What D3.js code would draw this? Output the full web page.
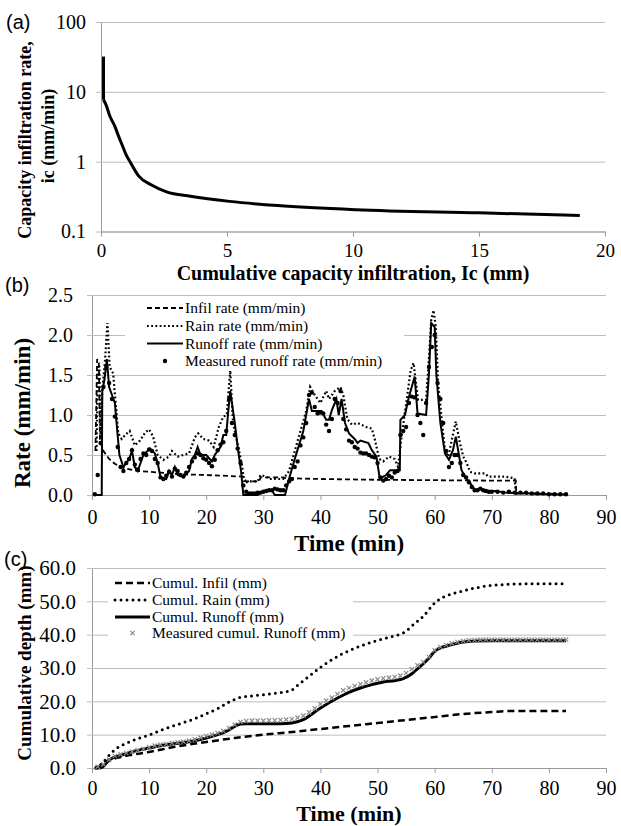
<!DOCTYPE html>
<html>
<head>
<meta charset="utf-8">
<script src="https://cdn.jsdelivr.net/npm/d3@7"></script>
<style>
  body { margin: 0; background: #fff; }
  svg { display: block; }
</style>
</head>
<body>
<div id="main"></div>
<script>
// (a) capacity infiltration rate vs cumulative capacity infiltration
const capCumul = [0.1, 0.1, 0.2, 0.35, 0.55, 0.7, 0.86, 1.0, 1.18, 1.5, 1.97, 2.6, 3.55, 5.1, 7, 10.1, 15, 19];
const capRate = [32, 7.7, 6.5, 4.5, 3.2, 2.3, 1.66, 1.25, 0.96, 0.62, 0.47, 0.37, 0.32, 0.27, 0.235, 0.205, 0.185, 0.17];

// (b) rates (mm/min)
const infilTime = [0.6, 0.9, 1.2, 1.4, 1.7, 2.0, 2.5, 3, 4, 5, 6, 8, 10, 12, 15, 20, 26.5, 27, 29.3, 29.5, 33.5, 34, 40, 50, 60, 70, 74.2, 74.3];
const infilRate = [0.55, 1.7, 1.65, 0.65, 0.62, 0.55, 0.5, 0.45, 0.39, 0.35, 0.33, 0.3, 0.29, 0.28, 0.26, 0.25, 0.23, 0.17, 0.17, 0.22, 0.22, 0.21, 0.2, 0.19, 0.185, 0.18, 0.18, 0];

const rainTime = [0.8, 1.0, 1.3, 1.5, 1.8, 2.3, 2.7, 3.1, 3.7, 4.2, 4.6, 5.2, 5.8, 6.6, 7.5, 8.4, 9.3, 10, 10.7, 11.5, 12.5, 13.5, 14, 15, 16, 17, 18, 18.6, 19.5, 20.5, 21.3, 22.2, 23, 23.6, 24.2, 24.7, 25.6, 26.2, 26.7, 27.5, 29, 29.5, 30.5, 31, 33.5, 34.5, 35.5, 36.5, 37.5, 38.2, 39, 40, 41, 41.5, 42.5, 43.5, 44, 44.7, 45.5, 46.5, 48, 49, 49.5, 50.3, 51, 52, 53, 53.6, 54.2, 55.1, 55.8, 56.3, 57.1, 58.5, 58.9, 59.4, 59.8, 60.2, 60.6, 61.3, 61.8, 62.4, 63, 63.7, 64.3, 65, 65.6, 66.2, 67, 68.8, 69.4, 72.3, 74, 74.2, 83];
const rainRate = [0.55, 1.6, 1.6, 0.7, 1.3, 1.7, 2.15, 1.6, 1.52, 1.1, 0.77, 0.7, 0.75, 0.8, 0.62, 0.68, 0.78, 0.82, 0.73, 0.5, 0.44, 0.48, 0.55, 0.48, 0.5, 0.52, 0.72, 0.77, 0.7, 0.68, 0.6, 0.85, 0.98, 1.0, 1.56, 0.9, 0.6, 0.4, 0.15, 0.17, 0.17, 0.25, 0.23, 0.2, 0.2, 0.3, 0.55, 0.8, 1.05, 1.35, 1.25, 1.15, 1.3, 1.2, 1.3, 1.35, 1.25, 0.95, 0.88, 0.9, 0.85, 0.83, 0.7, 0.45, 0.42, 0.48, 0.45, 0.35, 0.73, 1.19, 1.56, 1.65, 1.19, 1.19, 1.6, 2.19, 2.31, 2.1, 1.4, 0.9, 0.56, 0.48, 0.69, 0.92, 0.69, 0.48, 0.4, 0.29, 0.27, 0.27, 0.23, 0.23, 0.21, 0.02, 0.01];

const runoffTime = [0.5, 1.7, 1.8, 2.2, 2.6, 3.0, 3.5, 4.0, 4.3, 4.8, 5.5, 6, 6.5, 7, 7.5, 8, 8.5, 9, 9.7, 10.2, 11, 11.5, 12, 13, 13.5, 14, 14.5, 15, 16, 17, 17.5, 18, 18.5, 19, 20, 21, 21.5, 22.5, 23, 23.5, 23.8, 24.2, 24.6, 25, 25.6, 26.1, 26.5, 29, 30, 31.5, 32, 33.8, 34.5, 35.5, 37, 38, 38.5, 40.2, 41, 41.5, 42, 42.8, 43.2, 43.7, 44.3, 45, 46, 46.5, 47, 48.4, 49, 49.8, 50.4, 51, 51.5, 52.2, 53.9, 54, 54.8, 55.4, 56.5, 57, 58.5, 59, 59.4, 60, 60.3, 61, 61.8, 62.5, 63.2, 63.7, 64.3, 64.7, 65.5, 66.5, 67.1, 68, 68.8, 70.6, 72.3, 74, 77, 80, 83];
const runoffRate = [0, 0, 1.3, 1.45, 1.7, 1.35, 1.25, 1.15, 0.9, 0.5, 0.35, 0.4, 0.45, 0.55, 0.35, 0.3, 0.4, 0.5, 0.55, 0.58, 0.52, 0.4, 0.22, 0.2, 0.3, 0.25, 0.35, 0.25, 0.23, 0.3, 0.45, 0.5, 0.6, 0.5, 0.5, 0.42, 0.5, 0.6, 0.75, 0.75, 1.0, 1.3, 1.1, 0.9, 0.55, 0.3, 0, 0, 0.05, 0.06, 0, 0, 0.2, 0.45, 0.8, 1.2, 1.05, 1.05, 0.94, 0.94, 1.06, 1.2, 1.0, 1.2, 0.9, 0.77, 0.7, 0.65, 0.68, 0.65, 0.56, 0.48, 0.2, 0.23, 0.25, 0.31, 0.31, 0.94, 1.0, 1.2, 1.48, 1.02, 1.0, 1.52, 2.15, 2.1, 1.5, 0.9, 0.52, 0.44, 0.56, 0.73, 0.48, 0.31, 0.21, 0.12, 0.06, 0.08, 0.04, 0.05, 0.03, 0.025, 0.02, 0.01, 0.005];

const measuredTime = [0.5, 1, 1.5, 2, 2.5, 3, 3.5, 4, 4.5, 5, 5.5, 6, 6.5, 7, 7.5, 8, 8.5, 9, 9.5, 10, 10.5, 11, 11.5, 12, 12.5, 13, 13.5, 14, 14.5, 15, 15.5, 16, 16.5, 17, 17.5, 18, 18.5, 19, 19.5, 20, 20.5, 21, 21.5, 22, 22.5, 23, 23.5, 24, 24.5, 25, 25.5, 26, 26.5, 27, 27.5, 28, 28.5, 29, 29.5, 30, 30.5, 31, 31.5, 32, 32.5, 33, 33.5, 34, 34.5, 35, 35.5, 36, 36.5, 37, 37.5, 38, 38.5, 39, 39.5, 40, 40.5, 41, 41.5, 42, 42.5, 43, 43.5, 44, 44.5, 45, 45.5, 46, 46.5, 47, 47.5, 48, 48.5, 49, 49.5, 50, 50.5, 51, 51.5, 52, 52.5, 53, 53.5, 54, 54.5, 55, 55.5, 56, 56.5, 57, 57.5, 58, 58.5, 59, 59.5, 60, 60.5, 61, 61.5, 62, 62.5, 63, 63.5, 64, 64.5, 65, 65.5, 66, 66.5, 67, 67.5, 68, 68.5, 69, 69.5, 70, 71, 72, 73, 74, 75, 76, 77, 78, 79, 80, 81, 82, 83];
const measuredRate = [0.01, 0.25, 0.65, 1.35, 1.6, 1.4, 1.2, 0.98, 0.6, 0.35,
  0.3, 0.4, 0.45, 0.56, 0.38, 0.32, 0.45, 0.52, 0.5, 0.57,
  0.55, 0.45, 0.4, 0.22, 0.2, 0.24, 0.29, 0.23, 0.33, 0.3,
  0.25, 0.23, 0.28, 0.35, 0.42, 0.47, 0.52, 0.5, 0.46, 0.44,
  0.4, 0.36, 0.44, 0.56, 0.63, 0.66, 0.8, 1.2, 0.9, 0.75,
  0.58, 0.4, 0.12, 0.04, 0.02, 0.02, 0.02, 0.03, 0.03, 0.04,
  0.05, 0.06, 0.06, 0.08, 0.07, 0.06, 0.06, 0.12, 0.17, 0.2,
  0.35, 0.42, 0.62, 0.72, 0.9, 1.25, 1.28, 1.1, 1.02, 1.03,
  1.02, 0.88, 0.8, 0.95, 1.2, 1.15, 1.3, 0.95, 0.82, 0.68,
  0.66, 0.6, 0.58, 0.53, 0.52, 0.52, 0.5, 0.48, 0.47, 0.4,
  0.22, 0.18, 0.2, 0.24, 0.22, 0.28, 0.3, 0.75, 0.8, 0.85,
  1.15, 1.23, 1.22, 1.0, 0.9, 0.75, 1.15, 1.6, 1.85, 2.0,
  1.4, 1.2, 0.9, 0.55, 0.35, 0.4, 0.5, 0.5, 0.4, 0.25,
  0.22, 0.16, 0.1, 0.06, 0.06, 0.08, 0.06, 0.05, 0.04, 0.04,
  0.04, 0.03, 0.04, 0.03, 0.03, 0.03, 0.02, 0.02, 0.02, 0.01, 0.01, 0.01, 0.01];

// (c) cumulative depths (mm)
const cumInfilTime = [0.5, 1, 2, 3, 5, 10, 15, 20, 25, 30, 35, 40, 45, 50, 55, 60, 65, 70, 73.5, 83];
const cumInfil = [0, 0.3, 1.5, 2.3, 3.3, 4.8, 6.5, 7.8, 9.0, 10.0, 10.8, 11.7, 12.6, 13.5, 14.4, 15.3, 16.2, 16.8, 17.1, 17.1];

const cumRainTime = [0.7, 1, 2, 3, 4, 5, 6, 8, 10, 12, 14, 16, 18, 20, 22, 24, 26, 28, 30, 32, 34, 35, 36, 38, 40, 42, 44, 46, 48, 50, 52, 54, 55, 56, 58, 60, 61, 62, 64, 66, 68, 70, 72, 74, 83];
const cumRain = [0, 0.3, 1.8, 3.8, 5.5, 6.6, 7.4, 8.8, 9.9, 11.3, 12.5, 13.6, 14.8, 16.3, 17.8, 19.8, 21.2, 21.6, 22.0, 22.4, 22.9, 23.4, 24.8, 27.5, 30.2, 32.5, 34.4, 35.9, 37.2, 38.3, 39.2, 40.2, 41.0, 42.6, 45.5, 49.5, 50.8, 51.6, 52.7, 53.6, 54.3, 54.8, 55.0, 55.2, 55.3];

const cumRunoffTime = [0.5, 1.5, 2, 2.5, 3, 4, 5, 6, 8, 10, 12, 14, 16, 18, 20, 22, 23.5, 25, 26, 27, 30, 33, 35, 37, 40, 43, 45, 47, 49, 51, 53, 54.5, 56, 57.5, 59, 60, 61, 63, 65, 67, 70, 83];
const cumRunoff = [0, 0.1, 0.5, 1.5, 2.4, 3.3, 3.8, 4.3, 5.3, 6.0, 6.7, 7.2, 7.6, 8.2, 9.0, 10.0, 11.0, 12.5, 13.2, 13.3, 13.3, 13.3, 13.5, 14.5, 18.0, 21.0, 22.7, 24.0, 25.0, 25.8, 26.2, 26.8, 28.3, 30.5, 33.0, 35.0, 36.0, 37.0, 37.8, 38.1, 38.2, 38.2];

const measCumTime = [1, 2, 3, 4, 5, 6, 7, 8, 9, 10, 11, 12, 13, 14, 15, 16, 17, 18, 19, 20, 21, 22, 23, 24, 25, 26, 27, 28, 29, 30, 31, 32, 33, 34, 35, 36, 37, 38, 39, 40, 41, 42, 43, 44, 45, 46, 47, 48, 49, 50, 51, 52, 53, 54, 55, 56, 57, 58, 59, 60, 61, 62, 63, 64, 65, 66, 67, 68, 69, 70, 71, 72, 73, 74, 75, 76, 77, 78, 79, 80, 81, 82, 83];
const measCum = [0.1, 0.8, 2.2, 3.3, 3.8, 4.2, 4.6, 5.0, 5.4, 5.9,
  6.4, 6.7, 6.9, 7.2, 7.4, 7.6, 7.9, 8.3, 8.8, 9.3,
  9.7, 10.2, 10.8, 11.7, 12.7, 13.5, 13.8, 13.9, 13.9, 13.9,
  14.0, 14.0, 14.1, 14.2, 14.4, 14.8, 15.4, 16.4, 17.6, 18.9,
  19.9, 20.8, 21.9, 23.0, 23.7, 24.3, 24.8, 25.4, 25.9, 26.3,
  26.6, 26.8, 27.0, 27.4, 28.2, 29.4, 30.5, 31.5, 33.0, 35.0,
  36.0, 36.6, 37.1, 37.5, 37.8, 38.0, 38.1, 38.2, 38.2, 38.2,
  38.2, 38.2, 38.2, 38.2, 38.2, 38.2, 38.2, 38.2, 38.2, 38.2, 38.2, 38.2, 38.2];

// tick labels
const capTicksX = [0, 5, 10, 15, 20];
const capTicksY = [0.1, 1, 10, 100];
const timeTicks = [0, 10, 20, 30, 40, 50, 60, 70, 80, 90];
const rateTicks = [0, 0.5, 1.0, 1.5, 2.0, 2.5];
const depthTicks = [0, 10, 20, 30, 40, 50, 60];

const serif = '"Liberation Serif", "Times New Roman", serif';
const sans = '"Liberation Sans", Arial, sans-serif';
const zip = (a, b) => a.map((v, i) => [v, b[i]]);

const svg = d3.select('#main')
  .append('svg')
  .attr('width', 621)
  .attr('height', 826)
  .style('background', '#fff');

// gridlines, axis lines and tick labels for one panel
function axes(x, y, xTicks, yTicks, yFormat, o) {
  const [x0, x1] = x.range();
  const [yb] = y.range();

  const gy = svg.append('g')
    .attr('transform', `translate(${x0},0)`)
    .call(d3.axisLeft(y).tickValues(yTicks).tickFormat(yFormat)
      .tickSizeInner(-(x1 - x0)).tickSizeOuter(0).tickPadding(o.yPad));
  gy.select('.domain').attr('stroke', '#9a9a9a');
  gy.selectAll('.tick line').attr('x1', -5).attr('stroke', '#bdbdbd');
  gy.selectAll('.tick text')
    .attr('font-family', serif).attr('font-size', o.font).attr('fill', '#000');

  const gx = svg.append('g')
    .attr('transform', `translate(0,${yb})`)
    .call(d3.axisBottom(x).tickValues(xTicks).tickSizeInner(5).tickSizeOuter(0).tickPadding(o.xPad));
  gx.select('.domain').attr('stroke', '#9a9a9a');
  gx.selectAll('.tick line').attr('stroke', '#9a9a9a');
  gx.selectAll('.tick text')
    .attr('font-family', serif).attr('font-size', o.xFont || o.font).attr('fill', '#000');
}

function label(txt, x, y, size, bold, rotate, family) {
  svg.append('text')
    .attr('transform', `translate(${x},${y})` + (rotate ? ' rotate(-90)' : ''))
    .attr('text-anchor', family ? 'start' : 'middle')
    .attr('dy', rotate ? '0.35em' : 0)
    .attr('font-family', family || serif)
    .attr('font-size', size)
    .attr('font-weight', bold ? 'bold' : 'normal')
    .text(txt);
}

// ---------- (a) ----------
const xA = d3.scaleLinear().domain([0, 20]).range([101, 605]);
const yA = d3.scaleLog().domain([0.1, 100]).range([231.5, 22]);
axes(xA, yA, capTicksX, capTicksY, d3.format('~g'), { yPad: 15, xPad: 7, font: 20, xFont: 19 });

const capPts = zip(capCumul, capRate);
svg.append('path')
  .attr('d', d3.line().x(d => xA(d[0])).y(d => yA(d[1]))(capPts.slice(0, 2)))
  .attr('fill', 'none').attr('stroke', '#000').attr('stroke-width', 3);
svg.append('path')
  .attr('d', d3.line().curve(d3.curveMonotoneX).x(d => xA(d[0])).y(d => yA(d[1]))(capPts.slice(1)))
  .attr('fill', 'none').attr('stroke', '#000').attr('stroke-width', 3);

label('(a)', 6, 29, 20, false, false, sans);
label('Capacity infiltration rate,', 25, 140, 18, true, true);
label('ic (mm/min)', 48, 136, 18, true, true);
label('Cumulative capacity infiltration, Ic (mm)', 353, 280, 20, true);

// ---------- (b) ----------
const xB = d3.scaleLinear().domain([0, 90]).range([92, 606]);
const yB = d3.scaleLinear().domain([0, 2.5]).range([495, 295]);
axes(xB, yB, timeTicks, rateTicks, d3.format('.1f'), { yPad: 19, xPad: 10, font: 20 });

const lineB = d3.line().x(d => xB(d[0])).y(d => yB(d[1]));
svg.append('path').attr('d', lineB(zip(infilTime, infilRate)))
  .attr('fill', 'none').attr('stroke', '#000').attr('stroke-width', 1.8).attr('stroke-dasharray', '5,3');
svg.append('path').attr('d', lineB(zip(rainTime, rainRate)))
  .attr('fill', 'none').attr('stroke', '#000').attr('stroke-width', 2.2).attr('stroke-dasharray', '1.8,2.4');
svg.append('path').attr('d', lineB(zip(runoffTime, runoffRate)))
  .attr('fill', 'none').attr('stroke', '#000').attr('stroke-width', 2);
svg.append('g').selectAll('circle')
  .data(zip(measuredTime, measuredRate))
  .enter().append('circle')
  .attr('cx', d => xB(d[0])).attr('cy', d => yB(d[1])).attr('r', 2.2).attr('fill', '#000');

label('(b)', 5, 292, 20, false, false, sans);
label('Rate (mm/min)', 22, 413, 23, true, true);
label('Time (min)', 349, 551, 23, true);

// ---------- (c) ----------
const xC = d3.scaleLinear().domain([0, 90]).range([92, 606]);
const yC = d3.scaleLinear().domain([0, 60]).range([768, 568]);
axes(xC, yC, timeTicks, depthTicks, d3.format('.1f'), { yPad: 16, xPad: 8, font: 21, xFont: 20 });

const lineC = d3.line().curve(d3.curveMonotoneX).x(d => xC(d[0])).y(d => yC(d[1]));
svg.append('path').attr('d', lineC(zip(cumInfilTime, cumInfil)))
  .attr('fill', 'none').attr('stroke', '#000').attr('stroke-width', 2.5).attr('stroke-dasharray', '7,4');
svg.append('path').attr('d', lineC(zip(cumRainTime, cumRain)))
  .attr('fill', 'none').attr('stroke', '#000').attr('stroke-width', 3)
  .attr('stroke-linecap', 'round').attr('stroke-dasharray', '0,6');
svg.append('path').attr('d', lineC(zip(cumRunoffTime, cumRunoff)))
  .attr('fill', 'none').attr('stroke', '#000').attr('stroke-width', 3);
const xMark = d3.symbol().type(d3.symbolX).size(14);
svg.append('g').selectAll('path')
  .data(zip(measCumTime, measCum))
  .enter().append('path')
  .attr('transform', d => `translate(${xC(d[0])},${yC(d[1]) - 1})`)
  .attr('d', xMark).attr('fill', 'none').attr('stroke', '#8a8a8a').attr('stroke-width', 1.2);

label('(c)', 4, 566, 20, false, false, sans);
label('Cumulative depth (mm)', 24, 663, 19, true, true);
label('Time (min)', 349, 821, 22, true);

// ---------- legends ----------
function legend(box, rows, sx0, sx1, tx, items) {
  svg.append('rect')
    .attr('x', box[0]).attr('y', box[1]).attr('width', box[2]).attr('height', box[3])
    .attr('fill', '#fff');
  items.forEach((it, i) => {
    const yy = rows[i];
    if (it.kind === 'dot') {
      svg.append('circle').attr('cx', (sx0 + sx1) / 2).attr('cy', yy).attr('r', 2.2).attr('fill', '#000');
    } else if (it.kind === 'x') {
      svg.append('path').attr('transform', `translate(${(sx0 + sx1) / 2},${yy})`)
        .attr('d', xMark).attr('fill', 'none').attr('stroke', '#8a8a8a').attr('stroke-width', 1.2);
    } else {
      svg.append('line')
        .attr('x1', sx0).attr('x2', sx1).attr('y1', yy).attr('y2', yy)
        .attr('stroke', '#000').attr('stroke-width', it.w)
        .attr('stroke-linecap', it.cap || 'butt')
        .attr('stroke-dasharray', it.dash || null);
    }
    svg.append('text')
      .attr('x', tx).attr('y', yy + 5)
      .attr('font-family', serif).attr('font-size', 15.5)
      .text(it.name);
  });
}

legend([125, 297, 279, 74], [308, 326, 343.5, 361], 147, 183, 185, [
  { name: 'Infil rate (mm/min)', w: 1.8, dash: '5,3' },
  { name: 'Rain rate (mm/min)', w: 2.2, dash: '1.8,2.4' },
  { name: 'Runoff rate (mm/min)', w: 2 },
  { name: 'Measured runoff rate (mm/min)', kind: 'dot' }
]);

legend([108, 571, 245, 73], [583, 600, 617, 633], 115, 150, 152, [
  { name: 'Cumul. Infil (mm)', w: 2.5, dash: '7,4' },
  { name: 'Cumul. Rain (mm)', w: 3, dash: '0,6', cap: 'round' },
  { name: 'Cumul. Runoff (mm)', w: 3 },
  { name: 'Measured cumul. Runoff (mm)', kind: 'x' }
]);
</script>
</body>
</html>
